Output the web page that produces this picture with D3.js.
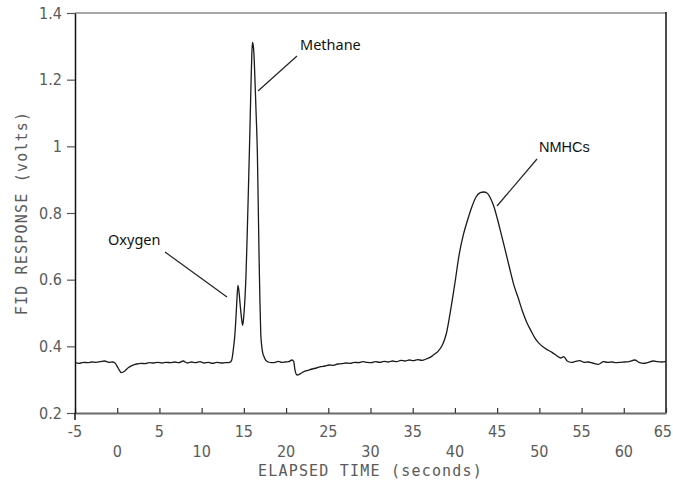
<!DOCTYPE html>
<html>
<head>
<meta charset="utf-8">
<script src="https://cdn.jsdelivr.net/npm/d3@7"></script>
<style>
  html, body { margin: 0; padding: 0; background: #fff; }
  svg { display: block; }
</style>
</head>
<body>
<svg id="chart" width="673" height="483"></svg>
<script>
// ---- data ----
const timeSec = [
  -5.0,-4.5,-4.0,-3.5,-3.0,-2.5,-2.0,-1.5,-1.0,-0.5,-0.2,0.1,0.5,0.9,1.3,1.8,2.3,2.8,3.3,3.8,
  4.3,4.8,5.3,5.8,6.3,6.8,7.3,7.8,8.3,8.8,9.3,9.8,10.3,10.8,11.3,11.8,12.3,12.8,13.3,13.55,
  13.75,13.92,14.05,14.2,14.3,14.42,14.55,14.7,14.85,14.95,15.1,15.25,15.4,15.55,15.7,15.85,15.95,16.02,16.1,16.2,
  16.3,16.45,16.6,16.7,16.8,16.9,17.0,17.1,17.2,17.4,17.6,17.9,18.3,18.7,19.1,19.5,19.9,20.3,20.7,20.9,
  21.05,21.3,21.7,22.1,22.6,23.1,23.6,24.1,24.6,25.1,25.6,26.1,26.6,27.1,27.6,28.1,28.6,29.1,29.6,30.1,
  30.6,31.1,31.6,32.1,32.6,33.1,33.6,34.1,34.6,35.1,35.6,36.1,36.6,37.0,37.5,38.0,38.5,39.0,39.5,40.0,
  40.5,41.0,41.5,42.0,42.5,43.0,43.4,43.8,44.2,44.6,45.0,45.5,46.0,46.5,47.0,47.5,48.0,48.5,49.0,49.5,
  50.0,50.5,51.0,51.5,52.0,52.5,52.9,53.3,53.8,54.3,54.8,55.3,55.8,56.3,57.0,57.6,58.1,58.6,59.1,59.6,
  60.1,60.6,61.3,61.8,62.3,62.8,63.5,64.0,64.5,65.0
];
const responseVolts = [
  0.351,0.349,0.352,0.351,0.353,0.352,0.354,0.356,0.352,0.353,0.348,0.335,0.321,0.326,0.336,0.343,0.347,0.349,0.348,0.351,
  0.350,0.352,0.350,0.352,0.351,0.353,0.351,0.356,0.350,0.353,0.351,0.354,0.350,0.352,0.349,0.352,0.350,0.351,0.352,0.358,
  0.390,0.430,0.480,0.550,0.583,0.565,0.528,0.490,0.463,0.480,0.530,0.610,0.740,0.880,1.030,1.190,1.280,1.312,1.305,1.275,
  1.210,1.100,0.980,0.830,0.670,0.540,0.440,0.405,0.385,0.368,0.358,0.353,0.351,0.352,0.355,0.352,0.353,0.354,0.359,0.355,
  0.330,0.314,0.318,0.324,0.328,0.332,0.335,0.339,0.341,0.344,0.343,0.347,0.348,0.350,0.349,0.352,0.351,0.354,0.352,0.351,
  0.354,0.352,0.355,0.353,0.356,0.354,0.358,0.356,0.359,0.357,0.360,0.358,0.362,0.366,0.375,0.385,0.403,0.440,0.510,0.590,
  0.675,0.735,0.779,0.818,0.848,0.861,0.863,0.860,0.845,0.820,0.785,0.735,0.684,0.632,0.582,0.545,0.505,0.472,0.447,0.424,
  0.408,0.397,0.389,0.382,0.373,0.365,0.369,0.356,0.352,0.355,0.357,0.352,0.353,0.350,0.346,0.354,0.352,0.353,0.351,0.352,
  0.353,0.354,0.359,0.352,0.349,0.351,0.356,0.354,0.353,0.355
];
const xTicksUpper = [-5, 5, 15, 25, 35, 45, 55, 65];
const xTicksLower = [0, 10, 20, 30, 40, 50, 60];
const yTicks = [0.2, 0.4, 0.6, 0.8, 1, 1.2, 1.4];
const peakLabels = ["Oxygen", "Methane", "NMHCs"];
const xTitle = "ELAPSED TIME (seconds)";
const yTitle = "FID RESPONSE (volts)";

// ---- layout ----
const W = 673;
const svg = d3.select("#chart");
const m = {left: 75, top: 13, right: 666, bottom: 413};
const x = d3.scaleLinear().domain([-5, 65]).range([m.left, m.right]);
const y = d3.scaleLinear().domain([0.2, 1.4]).range([m.bottom, m.top]);
const tickFont = "'Liberation Sans Narrow','DejaVu Sans Condensed','Liberation Sans',sans-serif";
const gray = "#5a5a5a";
const tickSize = 16;

// frame
svg.append("line").attr("x1", m.left).attr("x2", m.right).attr("y1", m.top).attr("y2", m.top)
  .attr("stroke", "#a8a8a8").attr("stroke-width", 2);
svg.append("line").attr("x1", m.right).attr("x2", m.right).attr("y1", m.top - 1).attr("y2", m.bottom)
  .attr("stroke", "#111").attr("stroke-width", 1.5);

// x axis
const xAxis = d3.axisBottom(x).tickValues(d3.range(-5, 66, 5)).tickSizeInner(-5).tickSizeOuter(0).tickFormat("");
const gx = svg.append("g").attr("transform", `translate(0,${m.bottom})`).call(xAxis);
gx.select(".domain").attr("stroke", "#6a6a6a").attr("stroke-width", 2);
gx.selectAll(".tick line").attr("stroke", "#333").attr("stroke-width", 1.2);

function placeX(sel) {
  sel.each(function(d) {
    const t = d3.select(this);
    const px = x(d);
    if (px + 9 > W) { t.attr("x", W - 1).attr("text-anchor", "end"); }
    else { t.attr("x", px).attr("text-anchor", "middle"); }
  });
}
svg.append("g").selectAll("text").data(xTicksUpper).join("text")
  .attr("y", 437).attr("font-family", tickFont).attr("font-size", tickSize)
  .attr("fill", gray).text(d => d).call(placeX);
svg.append("g").selectAll("text").data(xTicksLower).join("text")
  .attr("y", 457).attr("font-family", tickFont).attr("font-size", tickSize)
  .attr("fill", gray).text(d => d).call(placeX);

// y axis
const yAxis = d3.axisLeft(y).tickValues(yTicks).tickSizeInner(8).tickSizeOuter(0).tickFormat("");
const gy = svg.append("g").attr("transform", `translate(${m.left},0)`).call(yAxis);
gy.select(".domain").attr("stroke", "#111").attr("stroke-width", 1.5);
gy.selectAll(".tick line").attr("stroke", "#555").attr("stroke-width", 1.2);
svg.append("line").attr("x1", m.left).attr("x2", m.left).attr("y1", m.bottom).attr("y2", m.bottom + 7)
  .attr("stroke", "#111").attr("stroke-width", 1.5);

svg.append("g").selectAll("text").data(yTicks).join("text")
  .attr("x", 62).attr("y", d => y(d)).attr("dy", "0.36em")
  .attr("text-anchor", "end").attr("font-family", tickFont).attr("font-size", tickSize)
  .attr("fill", gray).text(d => d);

// axis titles
svg.append("text").attr("x", (m.left + m.right) / 2).attr("y", 476)
  .attr("text-anchor", "middle").attr("font-family", "'DejaVu Sans Mono',monospace")
  .attr("font-size", 15).attr("letter-spacing", 1.2).attr("fill", gray).text(xTitle);
svg.append("text").attr("transform", `translate(27,${(m.top + m.bottom) / 2}) rotate(-90)`)
  .attr("text-anchor", "middle").attr("font-family", "'DejaVu Sans Mono',monospace")
  .attr("font-size", 15).attr("letter-spacing", 1.2).attr("fill", gray).text(yTitle);

// trace
const pts = timeSec.map((t, i) => [t, responseVolts[i]]);
svg.append("path").datum(pts)
  .attr("d", d3.line().x(d => x(d[0])).y(d => y(d[1])).curve(d3.curveMonotoneX))
  .attr("fill", "none").attr("stroke", "#1a1a1a").attr("stroke-width", 1.3);

// annotations
const ann = [
  {label: peakLabels[0], tx: 108, ty: 245, font: "'Noto Sans',sans-serif", size: 14.5, l: [165, 252, 227, 297]},
  {label: peakLabels[1], tx: 300, ty: 50, font: "'Noto Sans',sans-serif", size: 14.5, l: [297, 56, 258, 91]},
  {label: peakLabels[2], tx: 539, ty: 152, font: "'Liberation Sans',sans-serif", size: 14.5, l: [537, 159, 497, 206]}
];
const ga = svg.append("g");
ann.forEach(a => {
  ga.append("text").attr("x", a.tx).attr("y", a.ty).attr("font-family", a.font)
    .attr("font-size", a.size).attr("fill", "#111").text(a.label);
  ga.append("line").attr("x1", a.l[0]).attr("y1", a.l[1]).attr("x2", a.l[2]).attr("y2", a.l[3])
    .attr("stroke", "#222").attr("stroke-width", 1.2);
});
</script>
</body>
</html>
